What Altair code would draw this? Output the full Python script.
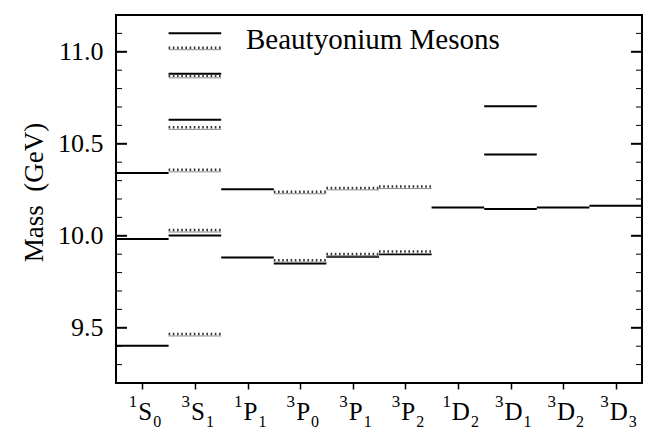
import altair as alt
import pandas as pd

# ---- data ----
states = ["1S0", "3S1", "1P1", "3P0", "3P1", "3P2", "1D2", "3D1", "3D2", "3D3"]
letters = ["S", "S", "P", "P", "P", "P", "D", "D", "D", "D"]
sup_digits = ["1", "3", "1", "3", "3", "3", "1", "3", "3", "3"]
sub_digits = ["0", "1", "1", "0", "1", "2", "2", "1", "2", "3"]

# solid (theory) levels, GeV
theory_state = ["1S0", "1S0", "1S0",
                "3S1", "3S1", "3S1", "3S1",
                "1P1", "1P1",
                "3P0", "3P1", "3P2",
                "1D2", "3D1", "3D1", "3D1", "3D2", "3D3"]
theory_mass = [10.341, 9.983, 9.402,
               11.101, 10.881, 10.631, 10.001,
               10.253, 9.882,
               9.849, 9.886, 9.900,
               10.154, 10.704, 10.442, 10.145, 10.154, 10.163]

# hatched (experimental) levels, GeV
exp_state = ["3S1", "3S1", "3S1", "3S1", "3S1", "3S1",
             "3P0", "3P0", "3P1", "3P1", "3P2", "3P2"]
exp_mass = [11.017, 10.864, 10.584, 10.353, 10.026, 9.461,
            10.234, 9.862, 10.255, 9.896, 10.262, 9.909]

major_ticks = [9.5, 10.0, 10.5, 11.0]
minor_ticks = [9.3, 9.4, 9.6, 9.7, 9.8, 9.9, 10.1, 10.2, 10.3, 10.4,
               10.6, 10.7, 10.8, 10.9, 11.1]

title_text = ["Beautyonium Mesons"]

# ---- tables ----
theory = pd.DataFrame({"state": theory_state, "mass": theory_mass})
theory["i"] = theory["state"].map(states.index)
exp = pd.DataFrame({"state": exp_state, "mass": exp_mass})
exp["i"] = exp["state"].map(states.index)
labels = pd.DataFrame({"state": states, "letter": letters,
                       "sup": sup_digits, "sub": sub_digits})
labels["i"] = range(len(states))
major = pd.DataFrame({"v": major_ticks})
minor = pd.DataFrame({"v": minor_ticks})
ttl = pd.DataFrame({"t": title_text})

W, H = 526, 368
UNIT = W / len(states)
SERIF = "Liberation Serif"

xs = alt.Scale(domain=[0, len(states)], nice=False, zero=False)
ys = alt.Scale(domain=[9.2, 11.2], nice=False, zero=False)

x_axis = alt.Axis(values=[k + 0.5 for k in range(len(states))], labels=False,
                  ticks=True, tickSize=6, tickWidth=1.5, tickColor="black",
                  domain=False, grid=False, title=None)
y_axis = alt.Axis(values=major_ticks, format=".1f", ticks=False, domain=False,
                  grid=False, labelFont=SERIF, labelFontSize=26,
                  labelColor="black", labelPadding=13,
                  title="Mass\u00a0\u00a0(GeV)", titleFont=SERIF,
                  titleFontSize=27, titleFontWeight="normal", titleColor="black",
                  titleAngle=-90, titleX=-74, titleY=177, titleAlign="center",
                  titleBaseline="alphabetic")

base_th = alt.Chart(theory).transform_calculate(x0="datum.i", x1="datum.i + 1")
solid = base_th.mark_rule(color="black", strokeWidth=2).encode(
    x=alt.X("x0:Q", scale=xs, axis=x_axis),
    x2="x1:Q",
    y=alt.Y("mass:Q", scale=ys, axis=y_axis),
)

base_ex = alt.Chart(exp).transform_calculate(x0="datum.i", x1="datum.i + 1")
hatch_base = base_ex.mark_rule(color="#8a8a8a", strokeWidth=1, yOffset=1).encode(
    x=alt.X("x0:Q", scale=xs), x2="x1:Q", y=alt.Y("mass:Q", scale=ys))
hatch = base_ex.mark_rule(color="#333333", strokeWidth=2.5,
                          strokeDash=[1.6, 2.6], yOffset=-1).encode(
    x=alt.X("x0:Q", scale=xs), x2="x1:Q", y=alt.Y("mass:Q", scale=ys))

# inward y ticks on both sides
lmaj = alt.Chart(major).mark_rule(color="black", strokeWidth=2).encode(
    y=alt.Y("v:Q", scale=ys), x=alt.value(0), x2=alt.value(11))
lmin = alt.Chart(minor).mark_rule(color="black", strokeWidth=1).encode(
    y=alt.Y("v:Q", scale=ys), x=alt.value(0), x2=alt.value(6))
rmaj = alt.Chart(major).mark_rule(color="black", strokeWidth=2).encode(
    y=alt.Y("v:Q", scale=ys), x=alt.value(W), x2=alt.value(W - 11))
rmin = alt.Chart(minor).mark_rule(color="black", strokeWidth=1).encode(
    y=alt.Y("v:Q", scale=ys), x=alt.value(W), x2=alt.value(W - 6))

# plot frame
frame = alt.Chart(ttl).mark_rect(filled=False, stroke="black", strokeWidth=2).encode(
    x=alt.value(0), x2=alt.value(W), y=alt.value(0), y2=alt.value(H))

# x labels: letter with pre-superscript and subscript
lab = alt.Chart(labels).transform_calculate(
    hw="datum.letter == 'D' ? 9 : 7",
    xl=f"datum.i + 0.5 + 3 / {UNIT}",
    xsup=f"datum.i + 0.5 + (3 - datum.hw - 1) / {UNIT}",
    xsub=f"datum.i + 0.5 + (3 + datum.hw + 1) / {UNIT}",
)
t_letter = lab.mark_text(font=SERIF, fontSize=25, align="center",
                         baseline="alphabetic", color="black").encode(
    x=alt.X("xl:Q", scale=xs), y=alt.value(405), text="letter:N")
t_sup = lab.mark_text(font=SERIF, fontSize=17, align="right",
                      baseline="alphabetic", color="black").encode(
    x=alt.X("xsup:Q", scale=xs), y=alt.value(392), text="sup:N")
t_sub = lab.mark_text(font=SERIF, fontSize=16, align="left",
                      baseline="alphabetic", color="black").encode(
    x=alt.X("xsub:Q", scale=xs), y=alt.value(411.5), text="sub:N")

# in-plot title
t_title = alt.Chart(ttl).mark_text(font=SERIF, fontSize=29, align="left",
                                   baseline="alphabetic", color="black").encode(
    x=alt.value(130), y=alt.value(33.5), text="t:N")

chart = alt.layer(
    solid, hatch_base, hatch, lmaj, lmin, rmaj, rmin, frame,
    t_letter, t_sup, t_sub, t_title
).properties(
    width=W, height=H,
    background="white",
    autosize=alt.AutoSizeParams(type="none"),
    padding={"left": 108, "top": 7, "right": 4, "bottom": 50},
).configure_view(stroke=None)

chart.save("out.html", embed_options={"renderer": "svg", "actions": False})
